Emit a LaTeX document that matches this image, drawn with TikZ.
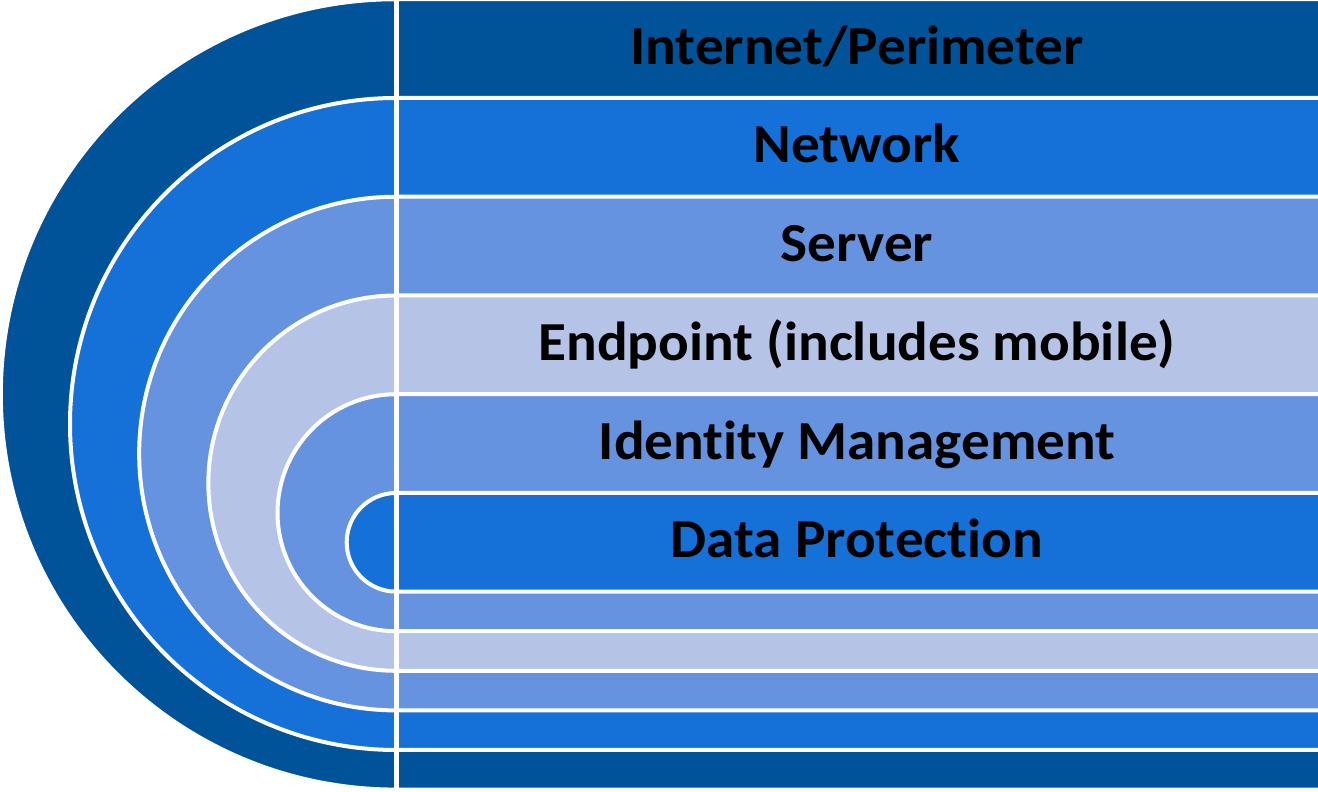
\documentclass[tikz,border=0pt]{standalone}
\usepackage{fontspec}
\setmainfont{Carlito}[Ligatures=NoCommon]
\definecolor{cdark}{RGB}{1,83,153}
\definecolor{cblue}{RGB}{21,112,215}
\definecolor{cmid}{RGB}{101,147,224}
\definecolor{clight}{RGB}{180,195,230}
\tikzset{
  layer/.style={draw=white, line width=4pt, line join=miter},
  label/.style={anchor=base, font=\fontsize{55}{60}\selectfont\bfseries, text=black, inner sep=0pt}
}
\newcommand{\wide}[1]{\scalebox{1.04}[1]{#1}}
\begin{document}
\begin{tikzpicture}[x=1pt,y=1pt]
\fill[white] (0,0) rectangle (1318,792);
\useasboundingbox (0,0) rectangle (1318,792);
\foreach \k/\col in {0/cdark,1/cblue,2/cmid,3/clight,4/cmid,5/cblue}{
  \pgfmathsetmacro{\T}{792.75-98.75*\k}
  \pgfmathsetmacro{\B}{2.4+39.6*\k}
  \pgfmathsetmacro{\R}{(\T-\B)/2}
  \draw[layer, fill=\col] (1320,\T) -- (396,\T) arc[start angle=90, end angle=270, radius=\R pt] -- (1320,\B) -- cycle;
}
\draw[white, line width=5pt] (396,-2) -- (396,794);
\node[label] (l1) at (857,727.75) {\wide{Internet/Perimeter}};
\node[label] (l2) at (857,629) {\wide{Network}};
\node[label] (l3) at (857,530.25) {\wide{Server}};
\node[label] (l4) at (857,431.5) {\wide{Endpoint (includes mobile)}};
\node[label] (l5) at (857,332.75) {\wide{Identity Management}};
\node[label] (l6) at (857,234) {\wide{Data Protection}};
\end{tikzpicture}
\end{document}
